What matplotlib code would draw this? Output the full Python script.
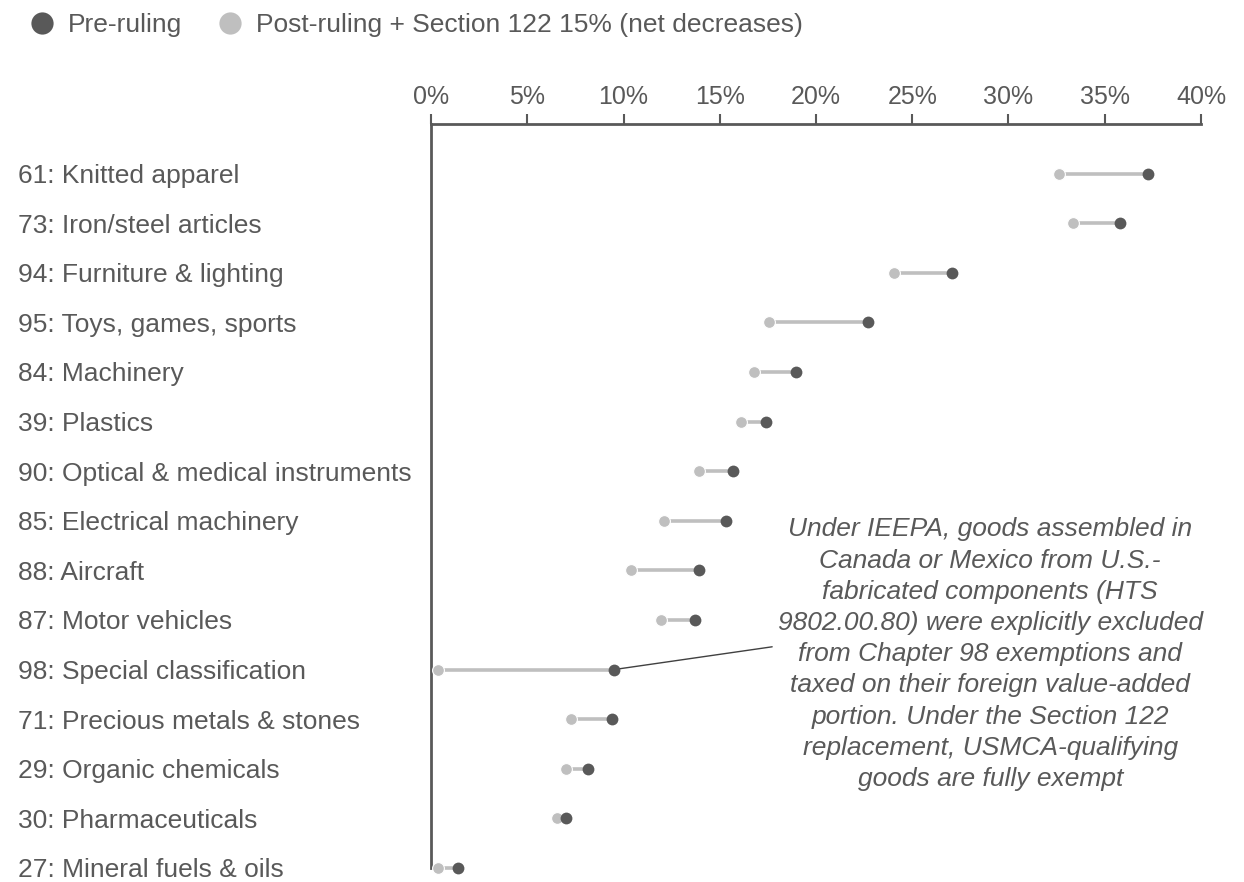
import matplotlib.pyplot as plt
import matplotlib.transforms as mtransforms
from matplotlib.lines import Line2D

# chapter labels, top to bottom
labels = [
    "61: Knitted apparel",
    "73: Iron/steel articles",
    "94: Furniture & lighting",
    "95: Toys, games, sports",
    "84: Machinery",
    "39: Plastics",
    "90: Optical & medical instruments",
    "85: Electrical machinery",
    "88: Aircraft",
    "87: Motor vehicles",
    "98: Special classification",
    "71: Precious metals & stones",
    "29: Organic chemicals",
    "30: Pharmaceuticals",
    "27: Mineral fuels & oils",
]

# effective tariff rates, %
pre_ruling = [37.25, 35.8, 27.05, 22.7, 18.95, 17.4, 15.7, 15.3, 13.9, 13.7, 9.5, 9.4, 8.15, 7.0, 1.4]
post_ruling = [32.6, 33.35, 24.05, 17.55, 16.8, 16.1, 13.9, 12.1, 10.4, 11.95, 0.35, 7.25, 7.0, 6.55, 0.35]

xticks = [0, 5, 10, 15, 20, 25, 30, 35, 40]

note = ("Under IEEPA, goods assembled in\n"
        "Canada or Mexico from U.S.-\n"
        "fabricated components (HTS\n"
        "9802.00.80) were explicitly excluded\n"
        "from Chapter 98 exemptions and\n"
        "taxed on their foreign value-added\n"
        "portion. Under the Section 122\n"
        "replacement, USMCA-qualifying\n"
        "goods are fully exempt")

dark = "#595959"
light = "#bfbfbf"
txt = "#595959"

plt.rcParams['font.family'] = ['Liberation Sans', 'DejaVu Sans']

fig = plt.figure(figsize=(12.44, 8.82), dpi=100)
ax = fig.add_axes([0.3465, 0.0159, 0.6189, 0.8435])

ys = list(range(len(labels)))
for y, a, b in zip(ys, post_ruling, pre_ruling):
    ax.plot([a, b], [y, y], color=light, lw=2.6, zorder=2, solid_capstyle='butt', clip_on=False)
ax.plot(post_ruling, ys, 'o', color=light, ms=8.5, mec='white', mew=0.8, zorder=3, clip_on=False)
ax.plot(pre_ruling, ys, 'o', color=dark, ms=8.5, mew=0, zorder=4, clip_on=False)

ax.set_xlim(0, 40)
ax.set_ylim(len(labels) - 1, -1)

ax.xaxis.tick_top()
ax.set_xticks(xticks)
ax.set_xticklabels([f"{t}%" for t in xticks])
ax.set_yticks([])
ax.tick_params(axis='x', direction='out', length=7, width=1.5, color=dark,
               labelsize=18, labelcolor=txt, pad=4)

# category labels, left aligned at the figure edge
trans = mtransforms.blended_transform_factory(fig.transFigure, ax.transData)
for y, lab in zip(ys, labels):
    ax.text(18 / 1244, y, lab, transform=trans, ha='left', va='center_baseline',
            fontsize=19, color=txt, clip_on=False)

for s in ['right', 'bottom']:
    ax.spines[s].set_visible(False)
for s in ['top', 'left']:
    ax.spines[s].set_color(dark)
    ax.spines[s].set_linewidth(2)

# annotation for chapter 98
ax.annotate(note, xy=(pre_ruling[10], 10), xytext=(29.05, 9.69),
            ha='center', va='center', fontsize=19, style='italic',
            color=txt, linespacing=1.38,
            arrowprops=dict(arrowstyle='-', color='#404040', lw=1,
                            shrinkA=2, shrinkB=0,
                            relpos=(0.0, 0.53)))

# legend
handles = [
    Line2D([], [], marker='o', ls='', color=dark, ms=16, mew=0),
    Line2D([], [], marker='o', ls='', color=light, ms=16, mew=0),
]
fig.legend(handles, ["Pre-ruling", "Post-ruling + Section 122 15% (net decreases)"],
           loc='upper left', bbox_to_anchor=(0.008, 1.006), ncol=2, frameon=False,
           fontsize=19, labelcolor=txt, handletextpad=0.5, columnspacing=1.3,
           handlelength=1.0, borderaxespad=0.3)

fig.savefig("out.png", dpi=100, facecolor='white')
